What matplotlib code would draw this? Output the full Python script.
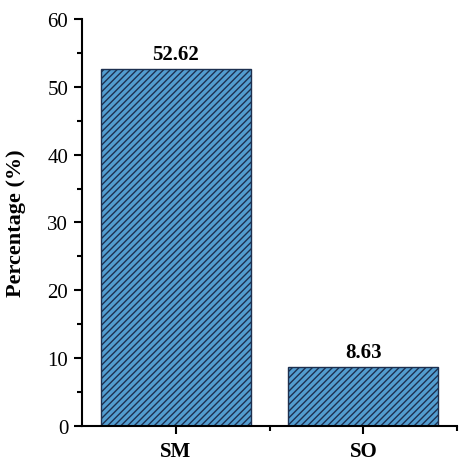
import matplotlib
matplotlib.use("Agg")
import matplotlib.pyplot as plt
from matplotlib.ticker import MultipleLocator, FixedLocator

categories = ["SM", "SO"]
values = [52.62, 8.63]
value_labels = ["52.62", "8.63"]

plt.rcParams['font.family'] = ['Liberation Serif', 'DejaVu Serif']
plt.rcParams['hatch.color'] = '#1d4268'
plt.rcParams['hatch.linewidth'] = 1.0

fig = plt.figure(figsize=(4.66, 4.64), dpi=100)
ax = fig.add_axes([0.176, 0.080, 0.805, 0.877])

x = list(range(len(categories)))
bars = ax.bar(x, values, width=0.8, color='#539dd0', edgecolor='#1d3050',
              linewidth=1.0, hatch='/////')
for xi, v, lab in zip(x, values, value_labels):
    ax.text(xi, v + 0.8, lab, ha='center', va='bottom', fontsize=15, fontweight='bold')

ax.set_xlim(-0.5, 1.5)
ax.set_ylim(0, 60)
ax.set_xticks(x)
ax.set_xticklabels(categories, fontsize=15, fontweight='bold')
ax.xaxis.set_minor_locator(FixedLocator([0.5, 1.5]))
ax.yaxis.set_major_locator(MultipleLocator(10))
ax.yaxis.set_minor_locator(MultipleLocator(5))
ax.tick_params(axis='both', which='major', direction='out', length=6, width=1.5, labelsize=15)
ax.tick_params(axis='both', which='minor', direction='out', length=3.5, width=1.5)
ax.tick_params(axis='x', which='major', pad=5)
ax.tick_params(axis='y', which='major', pad=4)
ax.set_ylabel("Percentage (%)", fontsize=16, fontweight='bold', labelpad=15)
for s in ['top', 'right']:
    ax.spines[s].set_visible(False)
for s in ['left', 'bottom']:
    ax.spines[s].set_linewidth(1.5)

fig.savefig("out.png", dpi=100)
